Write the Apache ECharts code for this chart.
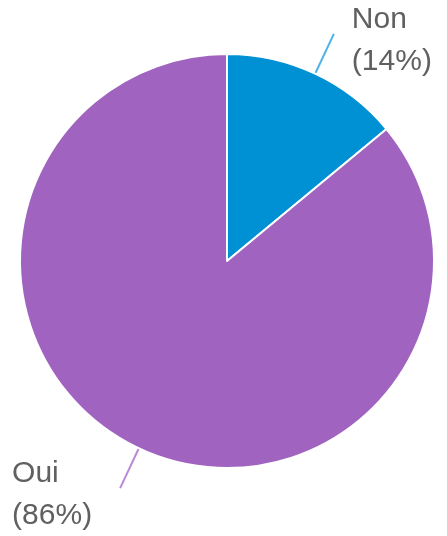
<!DOCTYPE html>
<html>
<head>
<meta charset="utf-8">
<script src="https://cdn.jsdelivr.net/npm/echarts@6/dist/echarts.min.js"></script>
<style>
  html, body { margin: 0; padding: 0; background: #fff; }
  #chart { width: 447px; height: 536px; }
</style>
</head>
<body>
<div id="chart"></div>
<script>
// données du camembert
var categories = ['Non', 'Oui'];
var values = [14, 86];
var colors = ['#0091d5', '#a064c0'];

var chart = echarts.init(document.getElementById('chart'));

var pieData = categories.map(function (name, i) {
  return {
    name: name,
    value: values[i],
    itemStyle: { color: colors[i] },
    labelLine: { lineStyle: { color: i === 0 ? '#4db3e6' : '#b98ad3' } }
  };
});

var options = {
  animation: false,
  series: [{
    type: 'pie',
    center: [227, 261],
    radius: 207,
    startAngle: 90,
    clockwise: true,
    data: pieData,
    itemStyle: { borderColor: '#ffffff', borderWidth: 2 },
    label: {
      show: true,
      position: 'outside',
      formatter: '{b}\n({d}%)',
      fontFamily: 'Liberation Sans, Arial, sans-serif',
      fontSize: 30,
      lineHeight: 42,
      color: '#606060'
    },
    labelLine: {
      show: true,
      length: 44,
      length2: 0,
      lineStyle: { width: 2 }
    },
    // texte aligné à gauche, placé à côté du bout du trait
    labelLayout: function (params) {
      var pts = params.labelLinePoints;
      if (!pts) return {};
      var end = pts[pts.length - 1];
      var w = params.labelRect.width;
      var right = end[0] > 227;
      return {
        x: right ? end[0] + 18 : end[0] - 28 - w,
        y: end[1] + 7,
        align: 'left',
        verticalAlign: 'middle',
        labelLinePoints: pts
      };
    }
  }]
};

chart.setOption(options);
</script>
</body>
</html>
